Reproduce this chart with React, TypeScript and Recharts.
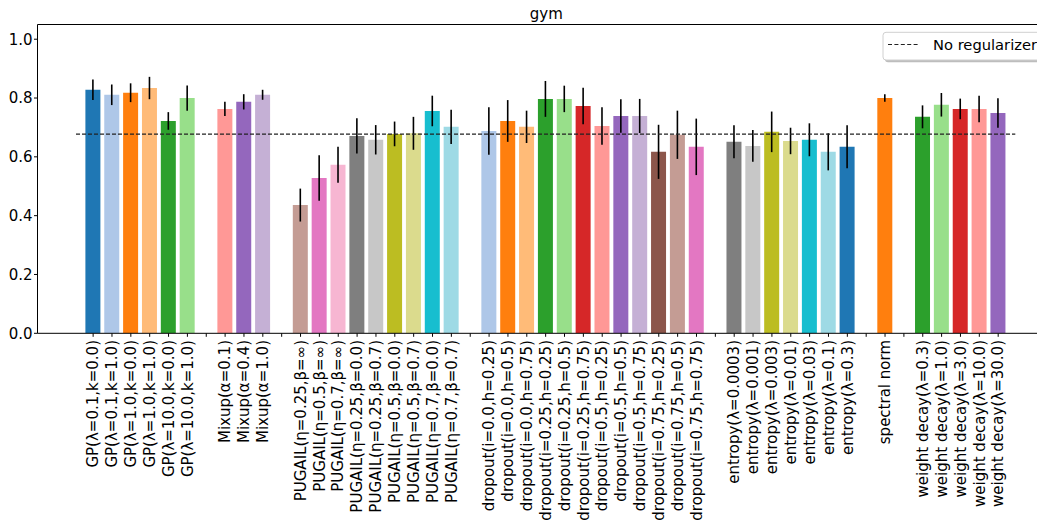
import React from "react";
import {
  ComposedChart,
  Bar,
  Cell,
  XAxis,
  YAxis,
  ErrorBar,
  ReferenceLine,
} from "recharts";

// ---- data ----
const labels: string[] = [
  "GP(λ=0.1,k=0.0)", "GP(λ=0.1,k=1.0)", "GP(λ=1.0,k=0.0)", "GP(λ=1.0,k=1.0)", "GP(λ=10.0,k=0.0)", "GP(λ=10.0,k=1.0)",
  "",
  "Mixup(α=0.1)", "Mixup(α=0.4)", "Mixup(α=1.0)",
  "",
  "PUGAIL(η=0.25,β=∞)", "PUGAIL(η=0.5,β=∞)", "PUGAIL(η=0.7,β=∞)", "PUGAIL(η=0.25,β=0.0)", "PUGAIL(η=0.25,β=0.7)",
  "PUGAIL(η=0.5,β=0.0)", "PUGAIL(η=0.5,β=0.7)", "PUGAIL(η=0.7,β=0.0)", "PUGAIL(η=0.7,β=0.7)",
  "",
  "dropout(i=0.0,h=0.25)", "dropout(i=0.0,h=0.5)", "dropout(i=0.0,h=0.75)", "dropout(i=0.25,h=0.25)", "dropout(i=0.25,h=0.5)",
  "dropout(i=0.25,h=0.75)", "dropout(i=0.5,h=0.25)", "dropout(i=0.5,h=0.5)", "dropout(i=0.5,h=0.75)", "dropout(i=0.75,h=0.25)",
  "dropout(i=0.75,h=0.5)", "dropout(i=0.75,h=0.75)",
  "",
  "entropy(λ=0.0003)", "entropy(λ=0.001)", "entropy(λ=0.003)", "entropy(λ=0.01)", "entropy(λ=0.03)", "entropy(λ=0.1)", "entropy(λ=0.3)",
  "",
  "spectral norm",
  "",
  "weight decay(λ=0.3)", "weight decay(λ=1.0)", "weight decay(λ=3.0)", "weight decay(λ=10.0)", "weight decay(λ=30.0)",
];

const means: (number | null)[] = [
  0.828, 0.811, 0.818, 0.834, 0.722, 0.800,
  null,
  0.763, 0.787, 0.811,
  null,
  0.436, 0.528, 0.573, 0.671, 0.658, 0.678, 0.680, 0.756, 0.702,
  null,
  0.688, 0.722, 0.702, 0.797, 0.797, 0.773, 0.705, 0.739, 0.739, 0.617, 0.675, 0.634,
  null,
  0.651, 0.637, 0.685, 0.654, 0.658, 0.617, 0.634,
  null,
  0.800,
  null,
  0.736, 0.777, 0.763, 0.763, 0.749,
];

const errors: (number | null)[] = [
  0.035, 0.035, 0.032, 0.038, 0.030, 0.043,
  null,
  0.024, 0.026, 0.017,
  null,
  0.056, 0.077, 0.061, 0.060, 0.050, 0.042, 0.056, 0.052, 0.058,
  null,
  0.081, 0.071, 0.055, 0.061, 0.045, 0.062, 0.064, 0.057, 0.058, 0.092, 0.082, 0.096,
  null,
  0.056, 0.054, 0.069, 0.045, 0.056, 0.063, 0.073,
  null,
  0.013,
  null,
  0.039, 0.040, 0.035, 0.045, 0.050,
];

const baselineValue = 0.677;
const yTicks = [0, 0.2, 0.4, 0.6, 0.8, 1.0];
const yMax = 1.05;
const barHalfWidth = 0.4;

// ---- styles ----
const palette = [
  "#1f77b4", "#aec7e8", "#ff7f0e", "#ffbb78", "#2ca02c", "#98df8a", "#d62728", "#ff9896",
  "#9467bd", "#c5b0d5", "#8c564b", "#c49c94", "#e377c2", "#f7b6d2", "#7f7f7f", "#c7c7c7",
  "#bcbd22", "#dbdb8d", "#17becf", "#9edae5",
];
const FONT = "DejaVu Sans, sans-serif";
const W = 1037;
const H = 515;
const xPadding = { left: 46.2, right: 37.4 };

const data = labels.map((label, i) => ({
  label,
  value: means[i],
  err: errors[i],
}));

const XTick = (props: any) => {
  const { x, y, payload } = props;
  return (
    <text
      x={x}
      y={y}
      transform={`rotate(-90, ${x}, ${y})`}
      textAnchor="end"
      dy="0.35em"
      fontSize={15}
      fontFamily={FONT}
      fill="#000"
    >
      {payload.value}
    </text>
  );
};

export default function App() {
  const n = labels.length;
  return (
    <div style={{ position: "relative", width: W, height: H }}>
      <ComposedChart
        width={W}
        height={H}
        data={data}
        margin={{ top: 16.5, right: 0, left: 0, bottom: 0 }}
        barCategoryGap="9%"
      >
        <XAxis
          dataKey="label"
          type="category"
          interval={0}
          height={189.7}
          padding={xPadding}
          tick={<XTick />}
          tickSize={3.5}
          tickMargin={3.2}
          axisLine={{ stroke: "#000", strokeWidth: 1 }}
          tickLine={{ stroke: "#000", strokeWidth: 1 }}
        />
        <XAxis
          xAxisId="num"
          type="number"
          domain={[-0.5, n - 0.5]}
          allowDataOverflow
          padding={xPadding}
          hide
        />
        <YAxis
          width={29.5}
          domain={[0, yMax]}
          ticks={yTicks}
          allowDataOverflow
          tickFormatter={(v: number) => v.toFixed(1)}
          tickSize={3.5}
          tickMargin={1.5}
          tick={{ fontSize: 15, fontFamily: FONT, fill: "#000" }}
          axisLine={{ stroke: "#000", strokeWidth: 1 }}
          tickLine={{ stroke: "#000", strokeWidth: 1 }}
        />
        <ReferenceLine y={yMax} stroke="#000" strokeWidth={1} ifOverflow="visible" />
        <Bar dataKey="value" isAnimationActive={false}>
          {data.map((_, i) => (
            <Cell key={i} fill={palette[i % palette.length]} />
          ))}
          <ErrorBar dataKey="err" width={0} stroke="#000" strokeWidth={1.6} direction="y" />
        </Bar>
        <ReferenceLine
          xAxisId="num"
          segment={[
            { x: -barHalfWidth, y: baselineValue },
            { x: n - 1 + barHalfWidth, y: baselineValue },
          ]}
          stroke="#222"
          strokeWidth={1.2}
          strokeDasharray="4 2"
          ifOverflow="visible"
        />
      </ComposedChart>
      <svg
        width={W}
        height={H + 8}
        style={{ position: "absolute", left: 0, top: -8, pointerEvents: "none", overflow: "visible" }}
      >
        <text x={538.3} y={19.3} textAnchor="middle" fontSize={15} fontFamily={FONT} fill="#000">
          gym
        </text>
        <rect x={877} y={34.5} width={160} height={27.7} rx={3} fill="#bdbdbd" />
        <rect x={875} y={32.3} width={162} height={27.7} rx={3} fill="#fff" stroke="#d0d0d0" strokeWidth={1} />
        <line x1={880} y1={44.5} x2={912} y2={44.5} stroke="#222" strokeWidth={1.2} strokeDasharray="4 2.4" />
        <text x={925} y={50} fontSize={14.7} fontFamily={FONT} fill="#000">
          No regularizer
        </text>
      </svg>
    </div>
  );
}
